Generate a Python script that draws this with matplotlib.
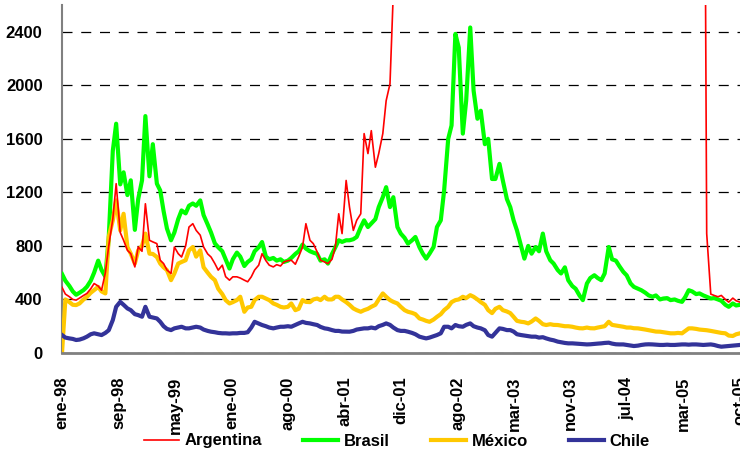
import numpy as np
import pandas as pd
import matplotlib
matplotlib.use("Agg")
import matplotlib.pyplot as plt
import matplotlib.dates as mdates

plt.rcParams['font.family'] = ['Liberation Sans', 'DejaVu Sans']
plt.rcParams['font.weight'] = 'bold'

# semi-monthly samples, ene-98 .. oct-05
dates = pd.date_range('1998-01-01', periods=187, freq='SMS')

argentina = [
    490, 440, 420, 400, 395, 410, 430, 445, 480, 519, 500, 469,
    600, 800, 1000, 1265, 900, 842, 767, 742, 643, 792, 760, 1115,
    842, 830, 817, 693, 668, 620, 594, 792, 742, 717, 800, 941,
    966, 916, 880, 792, 740, 717, 668, 619, 656, 570, 544, 569,
    569, 560, 544, 532, 569, 620, 656, 742, 690, 656, 643, 660,
    650, 680, 690, 693, 663, 720, 792, 966, 842, 817, 755, 693,
    680, 668, 700, 792, 1040, 892, 1289, 1090, 916, 991, 1040, 1639,
    1490, 1661, 1388, 1490, 1639, 1885, 2011, 2700, 3200, 3800, 4300, 4800,
    5000, 4500, 5200, 5800, 6200, 5900, 6400, 6600, 6800, 6500, 7000, 6700,
    6900, 6400, 6800, 7100, 6900, 6600, 6300, 6500, 6200, 6400, 6100, 6300,
    6500, 6300, 6100, 6000, 5800, 6000, 5700, 5500, 5600, 5400, 5300, 5500,
    5200, 5400, 5300, 5100, 5200, 5000, 5100, 5300, 5200, 5000, 5100, 5200,
    5300, 5200, 5400, 5300, 5100, 5200, 5400, 5500, 5600, 5400, 5300, 5200,
    5100, 5300, 5200, 5000, 4900, 5100, 5000, 4800, 4900, 5000, 4900, 4800,
    4900, 5000, 5100, 5200, 5300, 5400, 5600, 5800, 6000, 892,
    440, 430, 420, 430, 400, 380, 410, 390, 380,
]

brasil = [
    590, 540, 500, 460, 435, 450, 470, 495, 540, 600, 690, 620,
    570, 860, 1510, 1713, 1260, 1350, 1180, 1290, 920, 1150, 1290, 1770,
    1320, 1560, 1265, 1214, 1060, 930, 842, 900, 1000, 1065, 1043, 1100,
    1117, 1100, 1140, 1030, 960, 900, 819, 790, 760, 700, 631, 700,
    750, 720, 650, 680, 700, 760, 790, 829, 720, 700, 710, 690,
    700, 680, 690, 710, 740, 760, 810, 780, 760, 750, 740, 690,
    700, 668, 740, 790, 842, 830, 842, 842, 850, 867, 940, 991,
    941, 968, 1000, 1090, 1164, 1239, 1090, 1164, 941, 892, 860, 817,
    842, 867, 790, 742, 705, 742, 792, 941, 991, 1214, 1600, 1700,
    2384, 2282, 1639, 1885, 2432, 1960, 1750, 1810, 1560, 1600, 1300, 1300,
    1413, 1289, 1150, 1090, 991, 916, 800, 705, 800, 742, 792, 760,
    892, 760, 693, 668, 620, 594, 640, 544, 500, 480, 430, 395,
    519, 560, 581, 560, 544, 594, 792, 700, 690, 650, 606, 580,
    520, 494, 480, 469, 450, 430, 420, 430, 400, 407, 410, 395,
    400, 390, 382, 420, 469, 460, 440, 445, 430, 420,
    407, 410, 400, 390, 360, 345, 370, 355, 360,
]

mexico = [
    0, 400, 380, 360, 358, 370, 400, 420, 450, 470, 494, 460,
    445, 867, 991, 1140, 916, 1040, 792, 742, 668, 767, 800, 892,
    742, 740, 717, 668, 640, 619, 544, 594, 668, 680, 693, 767,
    792, 720, 767, 640, 600, 569, 544, 480, 440, 395, 370, 380,
    395, 420, 308, 340, 345, 395, 420, 420, 407, 395, 370, 360,
    345, 340, 345, 370, 320, 330, 395, 382, 380, 400, 407, 395,
    420, 400, 400, 420, 420, 400, 380, 360, 333, 320, 308, 320,
    330, 345, 360, 400, 445, 420, 395, 382, 370, 345, 320, 308,
    300, 290, 258, 250, 240, 233, 250, 270, 290, 320, 345, 380,
    395, 400, 420, 410, 432, 420, 400, 380, 360, 320, 298, 330,
    345, 320, 310, 298, 270, 240, 233, 230, 221, 235, 258, 240,
    215, 209, 215, 210, 209, 205, 200, 200, 196, 190, 185, 184,
    190, 185, 184, 190, 195, 200, 233, 210, 205, 200, 196, 190,
    190, 185, 184, 180, 175, 170, 165, 160, 159, 155, 150, 147,
    147, 150, 147, 165, 184, 184, 180, 175, 172, 170,
    165, 160, 155, 150, 147, 130, 127, 140, 147,
]

chile = [
    134, 115, 109, 105, 97, 100, 110, 122, 140, 147, 140, 134,
    150, 170, 246, 345, 382, 360, 333, 320, 290, 283, 271, 345,
    271, 265, 258, 233, 200, 180, 171, 184, 190, 196, 184, 184,
    190, 196, 190, 175, 165, 159, 155, 150, 147, 147, 145, 147,
    147, 150, 150, 155, 190, 233, 220, 209, 200, 190, 184, 190,
    196, 196, 200, 196, 210, 221, 233, 225, 221, 215, 209, 195,
    184, 180, 171, 165, 165, 160, 159, 159, 165, 175, 180, 184,
    184, 190, 184, 200, 210, 221, 210, 190, 171, 165, 165, 159,
    150, 140, 122, 115, 109, 115, 125, 134, 147, 196, 196, 184,
    209, 200, 196, 210, 221, 200, 190, 184, 170, 134, 122, 150,
    184, 180, 171, 171, 160, 140, 134, 130, 125, 122, 122, 115,
    118, 109, 100, 95, 85, 80, 75, 72, 72, 70, 68, 65,
    64, 65, 68, 70, 72, 75, 77, 70, 65, 64, 64, 60,
    55, 52, 55, 60, 64, 65, 64, 62, 60, 60, 62, 60,
    60, 62, 64, 64, 62, 64, 64, 62, 60, 62,
    64, 60, 52, 47, 50, 52, 55, 58, 60,
]

tick_labels = ['ene-98', 'sep-98', 'may-99', 'ene-00', 'ago-00', 'abr-01', 'dic-01',
               'ago-02', 'mar-03', 'nov-03', 'jul-04', 'mar-05', 'oct-05']

fig = plt.figure(figsize=(7.4, 4.54), dpi=100)
ax = fig.add_axes([0.0838, 0.2225, 0.9162, 0.7665])

ax.plot(dates, brasil, color='#00FF00', linewidth=3, label='Brasil', zorder=3)
ax.plot(dates, mexico, color='#FFC800', linewidth=3, label='México', zorder=4)
ax.plot(dates, chile, color='#333399', linewidth=3, label='Chile', zorder=5)
ax.plot(dates, argentina, color='#FF0000', linewidth=1.2, label='Argentina', zorder=6)

x0 = mdates.date2num(dates[0])
x1 = mdates.date2num(dates[-1])
ax.set_xlim(x0, x1)
ax.set_ylim(0, 2600)
ax.set_xticks(np.linspace(x0, x1, len(tick_labels)))
ax.set_xticklabels(tick_labels, rotation=90, fontsize=12, fontweight='bold')
ax.set_yticks(np.arange(0, 2401, 400))
ax.set_yticklabels([str(v) for v in range(0, 2401, 400)], fontsize=12, fontweight='bold')
ax.tick_params(axis='x', length=0, pad=17)
ax.tick_params(axis='y', length=0, pad=14)

ax.yaxis.grid(True, linestyle=(0, (8, 7)), color='black', linewidth=0.9)
ax.set_axisbelow(True)
for s in ['top', 'right']:
    ax.spines[s].set_visible(False)
ax.spines['left'].set_color('#808080')
ax.spines['left'].set_linewidth(1.5)
ax.spines['bottom'].set_color('#808080')
ax.spines['bottom'].set_linewidth(2)
ax.spines['bottom'].set_zorder(7)

handles, labels = ax.get_legend_handles_labels()
order = [3, 0, 1, 2]
fig.legend([handles[i] for i in order], [labels[i] for i in order],
           loc='center', bbox_to_anchor=(397 / 740, 1 - 441 / 454), ncol=4,
           frameon=False, handlelength=2.1, handletextpad=0.35,
           columnspacing=2.45, prop={'weight': 'bold', 'size': 12})

fig.savefig('out.png', dpi=100)
